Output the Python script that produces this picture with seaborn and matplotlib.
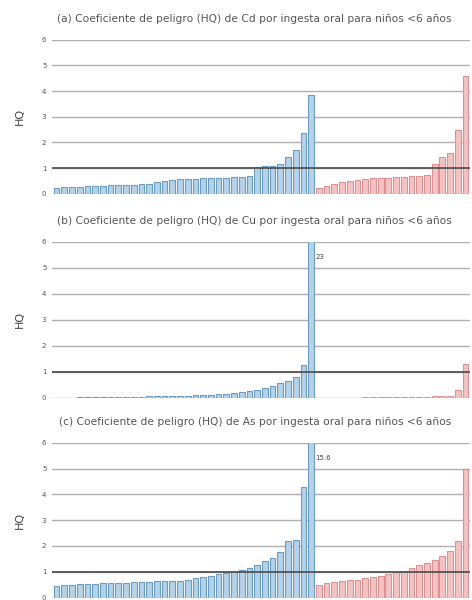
import numpy as np
import pandas as pd
import matplotlib
matplotlib.use("Agg")
import matplotlib.pyplot as plt
import matplotlib.colors as mcolors
import seaborn as sns

sns.set_theme(style="white")
plt.rcParams['font.family'] = ['DejaVu Sans']

# HQ values, sorted ascending within each group
cd_grupo1 = [0.22, 0.25, 0.27, 0.28, 0.30, 0.30, 0.32, 0.33, 0.34, 0.35, 0.36, 0.38,
             0.40, 0.45, 0.50, 0.55, 0.56, 0.57, 0.58, 0.60, 0.60, 0.62, 0.63, 0.65,
             0.67, 0.70, 1.05, 1.08, 1.10, 1.15, 1.45, 1.70, 2.35, 3.85]
cd_grupo2 = [0.22, 0.30, 0.38, 0.45, 0.50, 0.55, 0.58, 0.60, 0.62, 0.63, 0.65, 0.66,
             0.68, 0.70, 0.72, 1.15, 1.45, 1.60, 2.50, 4.60]

cu_grupo1 = [0.01, 0.01, 0.01, 0.02, 0.02, 0.02, 0.02, 0.03, 0.03, 0.03, 0.04, 0.04,
             0.05, 0.05, 0.06, 0.06, 0.07, 0.08, 0.09, 0.10, 0.12, 0.14, 0.16, 0.18,
             0.22, 0.26, 0.30, 0.36, 0.45, 0.55, 0.65, 0.80, 1.25, 23.0]
cu_grupo2 = [0.01, 0.01, 0.01, 0.01, 0.01, 0.01, 0.02, 0.02, 0.02, 0.02, 0.02, 0.03,
             0.03, 0.03, 0.04, 0.05, 0.06, 0.08, 0.30, 1.30]

as_grupo1 = [0.45, 0.48, 0.50, 0.52, 0.52, 0.54, 0.55, 0.56, 0.58, 0.58, 0.60, 0.60,
             0.62, 0.63, 0.64, 0.65, 0.66, 0.70, 0.75, 0.80, 0.85, 0.90, 0.95, 1.00,
             1.08, 1.15, 1.25, 1.40, 1.55, 1.75, 2.20, 2.25, 4.30, 15.6]
as_grupo2 = [0.50, 0.55, 0.60, 0.65, 0.68, 0.70, 0.75, 0.80, 0.85, 0.90, 0.98, 1.05,
             1.15, 1.25, 1.35, 1.45, 1.60, 1.80, 2.20, 5.00]

titulos = [
    "(a) Coeficiente de peligro (HQ) de Cd por ingesta oral para niños <6 años",
    "(b) Coeficiente de peligro (HQ) de Cu por ingesta oral para niños <6 años",
    "(c) Coeficiente de peligro (HQ) de As por ingesta oral para niños <6 años",
]
paneles = [(cd_grupo1, cd_grupo2), (cu_grupo1, cu_grupo2), (as_grupo1, as_grupo2)]
y_ticks = [0, 1, 2, 3, 4, 5, 6]
umbral = 1

colores = {"g1": "#b3d3ea", "g2": "#f5c2c2"}
bordes = {"g1": "#6a9cc4", "g2": "#dc9192"}

fig = plt.figure(figsize=(4.72, 6.0), dpi=100)
ejes = [
    fig.add_axes([0.110, 0.677, 0.886, 0.257]),
    fig.add_axes([0.110, 0.337, 0.886, 0.260]),
    fig.add_axes([0.110, 0.004, 0.886, 0.258]),
]

for ax, titulo, (g1, g2) in zip(ejes, titulos, paneles):
    valores = list(g1) + list(g2)
    grupos = ["g1"] * len(g1) + ["g2"] * len(g2)
    df = pd.DataFrame({"idx": np.arange(len(valores)), "HQ": valores, "grupo": grupos})
    for y in y_ticks:
        ax.axhline(y, color="#b0b0b0", lw=1.0, zorder=0)
    sns.barplot(data=df, x="idx", y="HQ", hue="grupo", palette=colores,
                saturation=1, dodge=False, width=0.75, legend=False, ax=ax,
                zorder=2, linewidth=0.8)
    for patch in ax.patches:
        fc = mcolors.to_hex(patch.get_facecolor())
        key = "g1" if fc == colores["g1"] else "g2"
        patch.set_edgecolor(bordes[key])
    ax.axhline(umbral, color="#555555", lw=1.3, zorder=3)
    ax.set_ylim(0, 6)
    ax.set_xlim(-0.6, len(valores) - 0.4)
    ax.set_yticks(y_ticks)
    ax.set_yticklabels([str(t) for t in y_ticks], fontsize=5, color="#555555")
    ax.set_xticks([])
    ax.set_xlabel("")
    ax.set_ylabel("HQ", fontsize=8, color="#444444", labelpad=12)
    ax.tick_params(axis="y", length=0, pad=4)
    for s in ax.spines.values():
        s.set_visible(False)
    ax.set_title(titulo, fontsize=7.7, color="#555555", pad=13, x=0.485)
    # value label for bars that run past the top of the axis
    for i, v in enumerate(valores):
        if v > 6:
            ax.text(i + 0.55, 5.4, f"{v:g}", fontsize=5, color="#444444",
                    ha="left", va="center")

fig.savefig("out.png", dpi=100)
